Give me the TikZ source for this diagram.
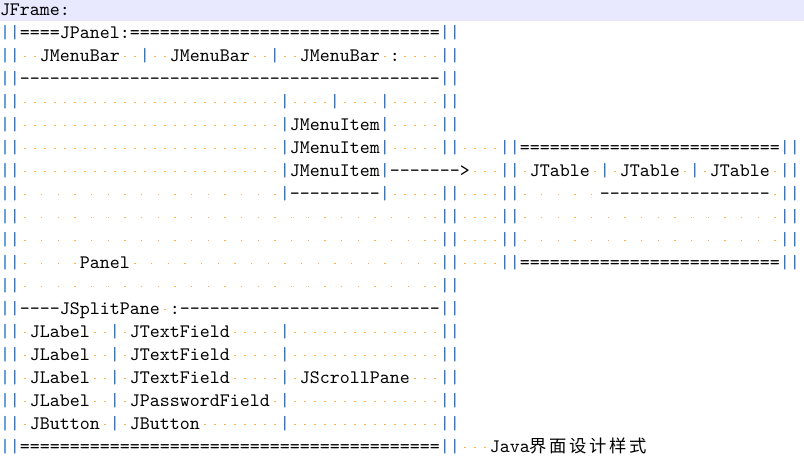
\documentclass[tikz,border=0pt]{standalone}
\usepackage{fontspec}
\setmonofont{lmmono10-regular}[Extension=.otf]
\newfontfamily\cjk{Noto Sans CJK SC}[LetterSpace=15]
\definecolor{linebg}{RGB}{232,232,255}
\definecolor{barblue}{RGB}{30,110,200}
\definecolor{wsorange}{RGB}{255,175,70}
% a space (one column) and a wide space, both shown as a dot
\newcommand{\dsp}{\makebox[7.5pt]{\raisebox{3.3pt}{\textcolor{wsorange}{\rule{0.9pt}{0.9pt}}}}}
\newcommand{\Dsp}{\makebox[12.5pt][l]{\hspace{3.3pt}\raisebox{3.3pt}{\textcolor{wsorange}{\rule{0.9pt}{0.9pt}}}}}
\newcommand{\vb}{\textcolor{barblue}{|}}
\ExplSyntaxOn
\cs_new:Npn \rpt #1#2 { \prg_replicate:nn {#1} {#2} }
\ExplSyntaxOff
\begin{document}
\begin{tikzpicture}[x=0.75pt,y=-0.75pt,
	row/.style={anchor=base west,inner sep=0pt,outer sep=0pt,font=\ttfamily\fontsize{14.2857pt}{16pt}\selectfont}]
		\useasboundingbox (0,0) rectangle (804,460);
		\fill[linebg] (0,0) rectangle (804,21);

		\node[row] (r0) at (0,15.5) {JFrame:};
		\node[row] (r1) at (0,38.5) {\vb\vb====JPanel:\rpt{31}{=}\vb\vb};
		\node[row] (r2) at (0,61.5) {\vb\vb\rpt{2}{\dsp}JMenuBar\rpt{2}{\dsp}\vb\rpt{2}{\dsp}JMenuBar\rpt{2}{\dsp}\vb\rpt{2}{\dsp}JMenuBar\dsp:\rpt{4}{\dsp}\vb\vb};
		\node[row] (r3) at (0,84.5) {\vb\vb\rpt{42}{-}\vb\vb};
		\node[row] (r4) at (0,107.5) {\vb\vb\rpt{26}{\dsp}\vb\rpt{4}{\dsp}\vb\rpt{4}{\dsp}\vb\rpt{5}{\dsp}\vb\vb};
		\node[row] (r5) at (0,130.5) {\vb\vb\rpt{26}{\dsp}\vb JMenuItem\vb\rpt{5}{\dsp}\vb\vb};
		\node[row] (r6) at (0,153.5) {\vb\vb\rpt{26}{\dsp}\vb JMenuItem\vb\rpt{5}{\dsp}\vb\vb\rpt{4}{\dsp}\vb\vb\rpt{26}{=}\vb\vb};
		\node[row] (r7) at (0,176.5) {\vb\vb\rpt{26}{\dsp}\vb JMenuItem\vb------->\rpt{3}{\dsp}\vb\vb\dsp JTable\dsp\vb\dsp JTable\dsp\vb\dsp JTable\dsp\vb\vb};
		\node[row] (r8) at (0,199.5) {\vb\vb\rpt{15}{\Dsp}\dsp\vb---------\vb\rpt{5}{\dsp}\vb\vb\rpt{4}{\dsp}\vb\vb\makebox[60pt][l]{\rpt{5}{\Dsp}}\rpt{17}{-}\dsp\vb\vb};
		\node[row] (r9) at (0,222.5) {\vb\vb\rpt{24}{\Dsp}\rpt{2}{\dsp}\vb\vb\rpt{4}{\dsp}\vb\vb\rpt{15}{\Dsp}\dsp\vb\vb};
		\node[row] (r10) at (0,245.5) {\vb\vb\rpt{24}{\Dsp}\rpt{2}{\dsp}\vb\vb\rpt{4}{\dsp}\vb\vb\rpt{15}{\Dsp}\dsp\vb\vb};
		\node[row] (r11) at (0,268.5) {\vb\vb\rpt{3}{\Dsp}\dsp Panel\rpt{18}{\Dsp}\dsp\vb\vb\rpt{4}{\dsp}\vb\vb\rpt{26}{=}\vb\vb};
		\node[row] (r12) at (0,291.5) {\vb\vb\rpt{24}{\Dsp}\rpt{2}{\dsp}\vb\vb};
		\node[row] (r13) at (0,314.5) {\vb\vb----JSplitPane\dsp:\rpt{26}{-}\vb\vb};
		\node[row] (r14) at (0,337.5) {\vb\vb\dsp JLabel\rpt{2}{\dsp}\vb\dsp JTextField\rpt{5}{\dsp}\vb\rpt{15}{\dsp}\vb\vb};
		\node[row] (r15) at (0,360.5) {\vb\vb\dsp JLabel\rpt{2}{\dsp}\vb\dsp JTextField\rpt{5}{\dsp}\vb\rpt{15}{\dsp}\vb\vb};
		\node[row] (r16) at (0,383.5) {\vb\vb\dsp JLabel\rpt{2}{\dsp}\vb\dsp JTextField\rpt{5}{\dsp}\vb\dsp JScrollPane\rpt{3}{\dsp}\vb\vb};
		\node[row] (r17) at (0,406.5) {\vb\vb\dsp JLabel\rpt{2}{\dsp}\vb\dsp JPasswordField\dsp\vb\rpt{15}{\dsp}\vb\vb};
		\node[row] (r18) at (0,429.5) {\vb\vb\dsp JButton\dsp\vb\dsp JButton\rpt{8}{\dsp}\vb\rpt{15}{\dsp}\vb\vb};
		\node[row] (r19) at (0,452.5) {\vb\vb\rpt{42}{=}\vb\vb\rpt{3}{\dsp}Java{\cjk\fontsize{13pt}{15pt}\selectfont 界面设计样式}};
	\end{tikzpicture}
\end{document}
